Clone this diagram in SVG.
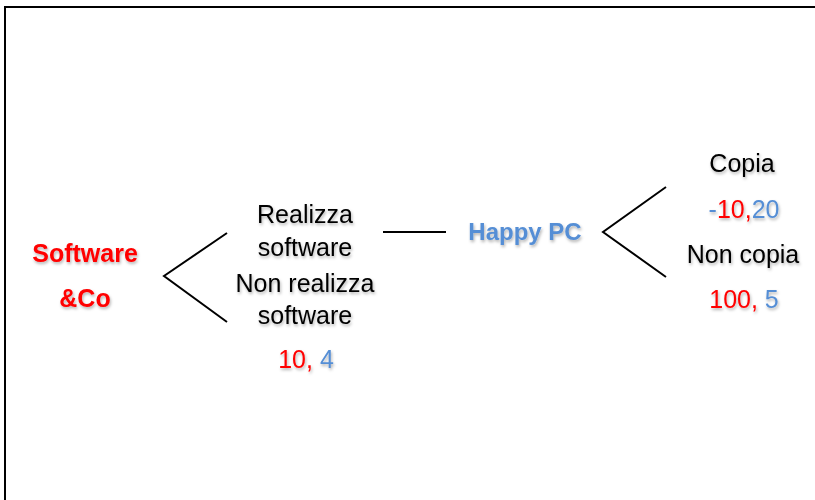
<svg xmlns="http://www.w3.org/2000/svg" width="815" height="500" viewBox="0 0 815 500">
  <defs>
    <filter id="sh" x="-20%" y="-30%" width="140%" height="170%">
      <feDropShadow dx="1" dy="2" stdDeviation="1.6" flood-color="#000" flood-opacity="0.3"/>
    </filter>
  </defs>
  <style>
    text { font-family: "Liberation Sans", Arial, sans-serif; text-anchor: middle; filter: url(#sh); }
    .lbl { font-size: 25px; fill: #000; }
    .pl { font-size: 25px; font-weight: bold; }
    .hp { font-size: 24px; }
    .red { fill: #FF0000; }
    .blue { fill: #558ED5; }
    .num { font-size: 25px; }
    .edge { stroke: #000; stroke-width: 2; fill: none; }
    .frame { stroke: #000; stroke-width: 2; fill: none; }
  </style>
  <rect width="815" height="500" fill="#fff"/>
  <path class="frame" d="M 816 7 L 5 7 L 5 501"/>

  <g id="connectors">
    <polyline class="edge" points="227,233 164,276 227,322"/>
    <line class="edge" x1="383" y1="232" x2="446" y2="232"/>
    <polyline class="edge" points="666,187 603,232 666,277"/>
  </g>

  <g id="software-co">
    <text class="pl red" x="85" y="262">Software</text>
    <text class="pl red" x="85" y="307">&amp;Co</text>
  </g>

  <g id="choices-sw">
    <text class="lbl" x="305" y="223">Realizza</text>
    <text class="lbl" x="305" y="256">software</text>
    <text class="lbl" x="305" y="292">Non realizza</text>
    <text class="lbl" x="305" y="324">software</text>
    <text class="num" x="306" y="368"><tspan class="red">10,</tspan><tspan class="blue"> 4</tspan></text>
  </g>

  <g id="happy-pc">
    <text class="pl hp blue" x="525" y="240">Happy PC</text>
  </g>

  <g id="choices-hpc">
    <text class="lbl" x="742" y="172">Copia</text>
    <text class="num" x="744" y="218"><tspan class="blue">-</tspan><tspan class="red">10,</tspan><tspan class="blue">20</tspan></text>
    <text class="lbl" x="743" y="263">Non copia</text>
    <text class="num" x="744" y="308"><tspan class="red">100,</tspan><tspan class="blue"> 5</tspan></text>
  </g>
</svg>
